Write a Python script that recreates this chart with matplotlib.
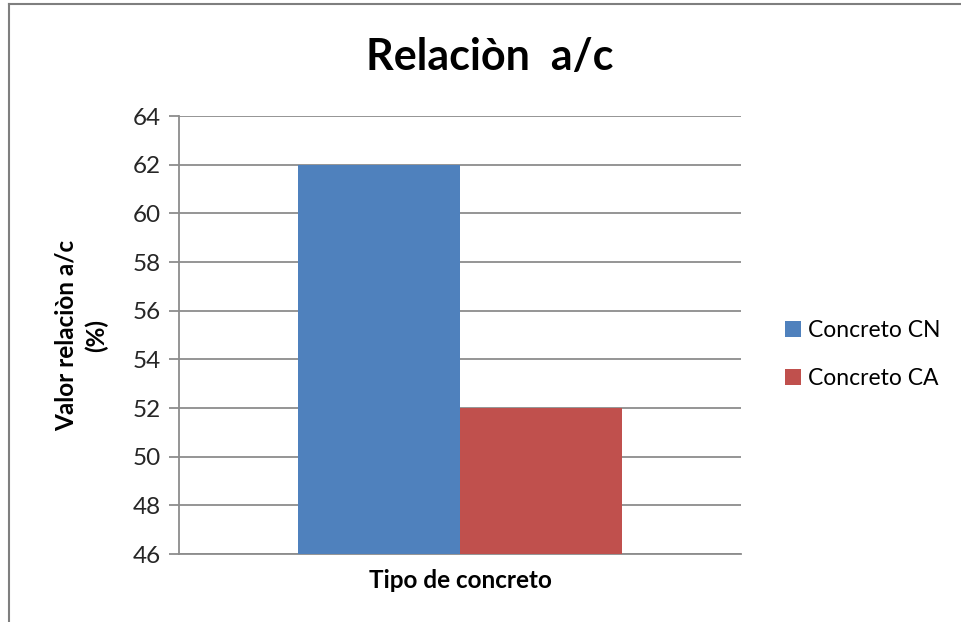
import matplotlib.pyplot as plt
from matplotlib.lines import Line2D
import numpy as np

plt.rcParams['font.family'] = ['Lato', 'DejaVu Sans']

# Data
category = ['Tipo de concreto']
series = ['Concreto CN', 'Concreto CA']
values = [62, 52]
colors = ['#4F81BD', '#C0504D']
y_ticks = [46, 48, 50, 52, 54, 56, 58, 60, 62, 64]

fig = plt.figure(figsize=(9.61, 6.22), dpi=100)
ax = fig.add_axes([0.1863, 0.1093, 0.5848, 0.7042])

x = np.arange(len(category))
width = 0.288
for i, (name, val, col) in enumerate(zip(series, values, colors)):
    ax.bar(x + (i - 0.5) * width, val - y_ticks[0], width, bottom=y_ticks[0],
           color=col, label=name, zorder=3)

ax.set_xlim(-0.5, 0.5)
ax.set_ylim(y_ticks[0], y_ticks[-1])
ax.set_yticks(y_ticks)
ax.set_yticklabels([str(t) for t in y_ticks], fontsize=17.5, color='#262626')
ax.set_xticks([])
ax.grid(axis='y', color='#8c8c8c', linewidth=1.3, zorder=0)

for side in ['top', 'right']:
    ax.spines[side].set_visible(False)
for side in ['left', 'bottom']:
    ax.spines[side].set_color('#8c8c8c')
    ax.spines[side].set_linewidth(1.3)
ax.tick_params(axis='y', length=7, width=1.3, color='#8c8c8c', pad=6)

ax.set_xlabel('Tipo de concreto', fontsize=17.5, fontweight='bold', labelpad=11)
ax.set_ylabel('Valor relaciòn a/c\n(%)', fontsize=17.5, fontweight='bold',
              labelpad=18, linespacing=1.35)

fig.text(0.51, 0.908, 'Relaciòn  a/c', ha='center', va='center',
         fontsize=31, fontweight='bold')

fig.legend(loc='center left', bbox_to_anchor=(0.795, 0.43), frameon=False,
           fontsize=16.5, handlelength=0.7, handleheight=0.7,
           handletextpad=0.3, labelspacing=1.2)

# outer chart frame (top and left edges visible)
fig.add_artist(Line2D([0.009, 0.009], [0, 0.994], transform=fig.transFigure,
                      color='#7f7f7f', linewidth=1.5))
fig.add_artist(Line2D([0.009, 1.0], [0.994, 0.994], transform=fig.transFigure,
                      color='#7f7f7f', linewidth=1.5))

fig.savefig('out.png', dpi=100)
